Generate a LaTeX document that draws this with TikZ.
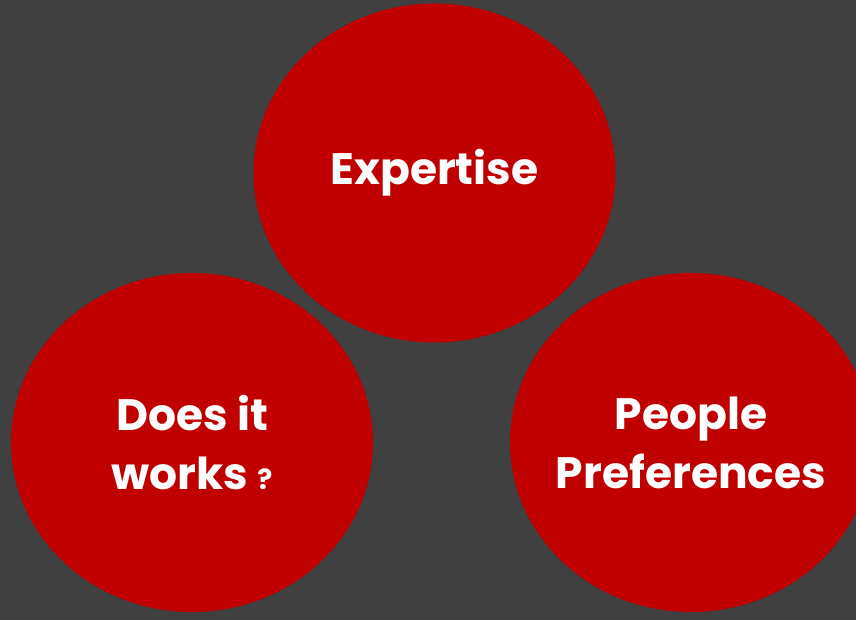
\documentclass[tikz,border=0pt]{standalone}
\usepackage{fontspec}
\setmainfont{Poppins}[BoldFont={* Bold}]
\usetikzlibrary{shapes.geometric}
\definecolor{bgdark}{HTML}{404040}
\definecolor{circred}{HTML}{C00000}
\tikzset{
  bubble/.style={ellipse, fill=circred, draw=none, inner sep=0pt,
    minimum width=362pt, minimum height=339pt},
  bubbletext/.style={text=white, inner sep=0pt, align=center,
    font=\fontsize{44}{59}\selectfont\bfseries}
}
\begin{document}
\begin{tikzpicture}[x=1pt,y=1pt]
  \useasboundingbox (0,0) rectangle (856,620);
  \clip (0,0) rectangle (856,620);
  \fill[bgdark] (0,0) rectangle (856,620);
  \node[bubble] (expertise) at (434.5,447) {};
  \node[bubble] (works) at (192,177.5) {};
  \node[bubble] (people) at (691,177.5) {};
  \node[bubbletext] (expertiseT) at (expertise.center) {Expertise};
  \node[bubbletext] (worksT) at (works.center) {Does it\\works {\fontsize{28}{59}\selectfont ?}};
  \node[bubbletext] (peopleT) at (people.center) {People\\Preferences};
\end{tikzpicture}
\end{document}
